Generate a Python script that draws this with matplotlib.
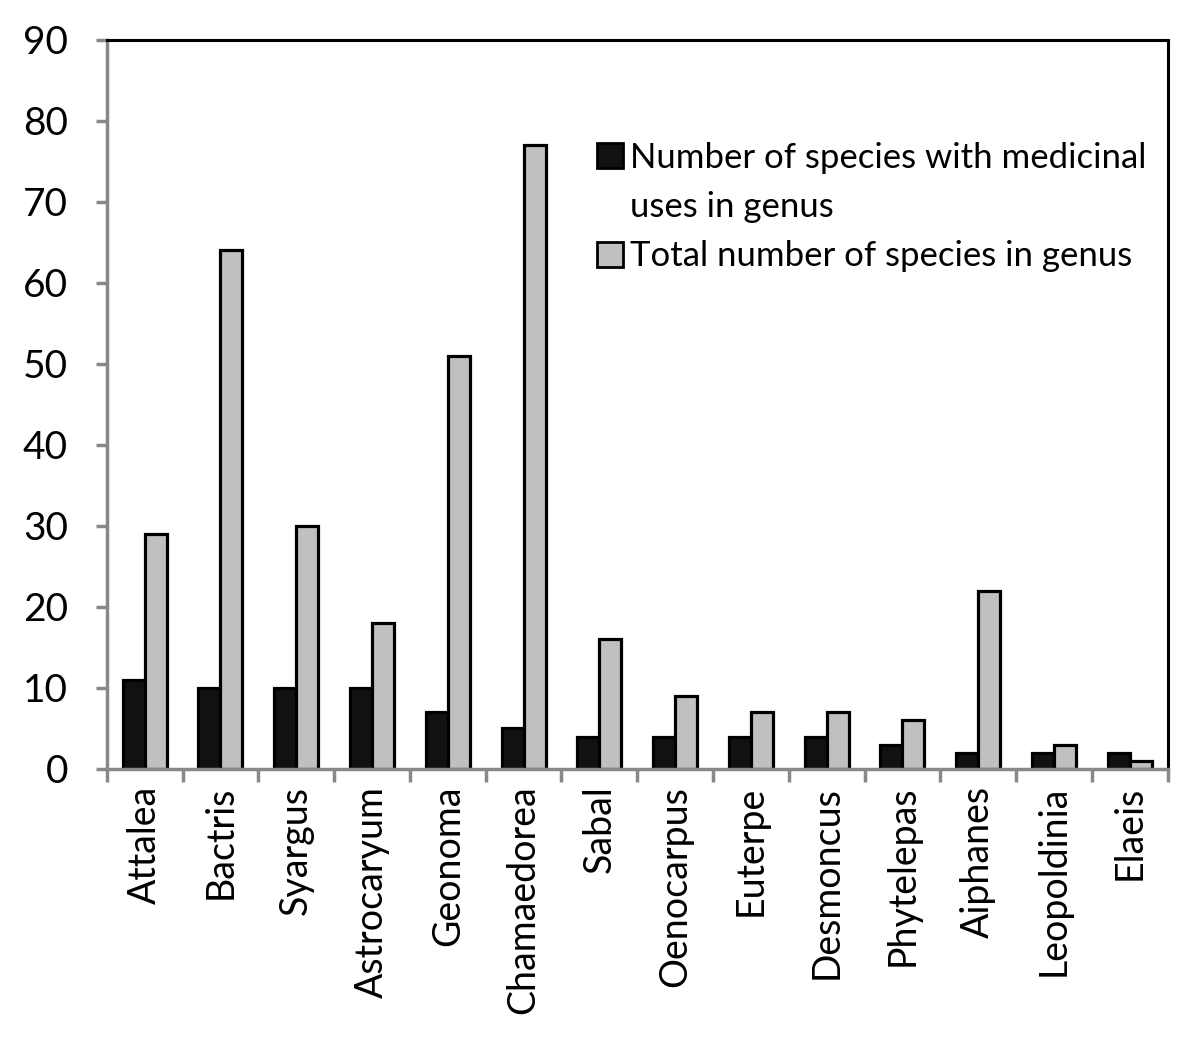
import numpy as np
import matplotlib.pyplot as plt
from matplotlib.patches import Patch

plt.rcParams['font.family'] = ['Lato', 'DejaVu Sans']

genera = ['Attalea', 'Bactris', 'Syargus', 'Astrocaryum', 'Geonoma', 'Chamaedorea',
          'Sabal', 'Oenocarpus', 'Euterpe', 'Desmoncus', 'Phytelepas', 'Aiphanes',
          'Leopoldinia', 'Elaeis']
medicinal = [11, 10, 10, 10, 7, 5, 4, 4, 4, 4, 3, 2, 2, 2]
total = [29, 64, 30, 18, 51, 77, 16, 9, 7, 7, 6, 22, 3, 1]

fig = plt.figure(figsize=(12, 10.42), dpi=100)
ax = fig.add_axes([0.089, 0.262, 0.884, 0.7])

x = np.arange(len(genera))
w = 0.29
ax.bar(x - w / 2, medicinal, w, color='#111111', edgecolor='black', linewidth=2.3)
ax.bar(x + w / 2, total, w, color='#c0c0c0', edgecolor='black', linewidth=2.3)

ax.set_xlim(-0.5, len(genera) - 0.5)
ax.set_ylim(0, 90)
ax.set_yticks(range(0, 91, 10))
ax.set_xticks(np.arange(-0.5, len(genera), 1.0))
ax.set_xticklabels([])
ax.set_xticks(x, minor=True)
ax.set_xticklabels(genera, minor=True, rotation=90, fontsize=27)
ax.tick_params(axis='x', which='minor', length=0, pad=12)
ax.tick_params(axis='x', which='major', length=9, width=2.5, color='#888888', direction='out')
ax.tick_params(axis='y', length=8, width=2.5, color='#888888', labelsize=28, pad=20)

for s in ['left', 'bottom']:
    ax.spines[s].set_color('#888888')
    ax.spines[s].set_linewidth(2.5)
for s in ['top', 'right']:
    ax.spines[s].set_color('black')
    ax.spines[s].set_linewidth(2.2)

# the wrapped second line gets an empty handle so the square sits on the first line
handles = [Patch(facecolor='#111111', edgecolor='black', linewidth=2),
           Patch(facecolor='none', edgecolor='none'),
           Patch(facecolor='#c0c0c0', edgecolor='black', linewidth=2)]
labels = ['Number of species with medicinal',
          'uses in genus',
          'Total number of species in genus']
ax.legend(handles, labels, loc='upper left', bbox_to_anchor=(0.449, 0.879),
          frameon=False, fontsize=25, handlelength=0.75, handleheight=0.75,
          handletextpad=0.2, labelspacing=0.5, borderaxespad=0)

fig.savefig('out.png', dpi=100)
